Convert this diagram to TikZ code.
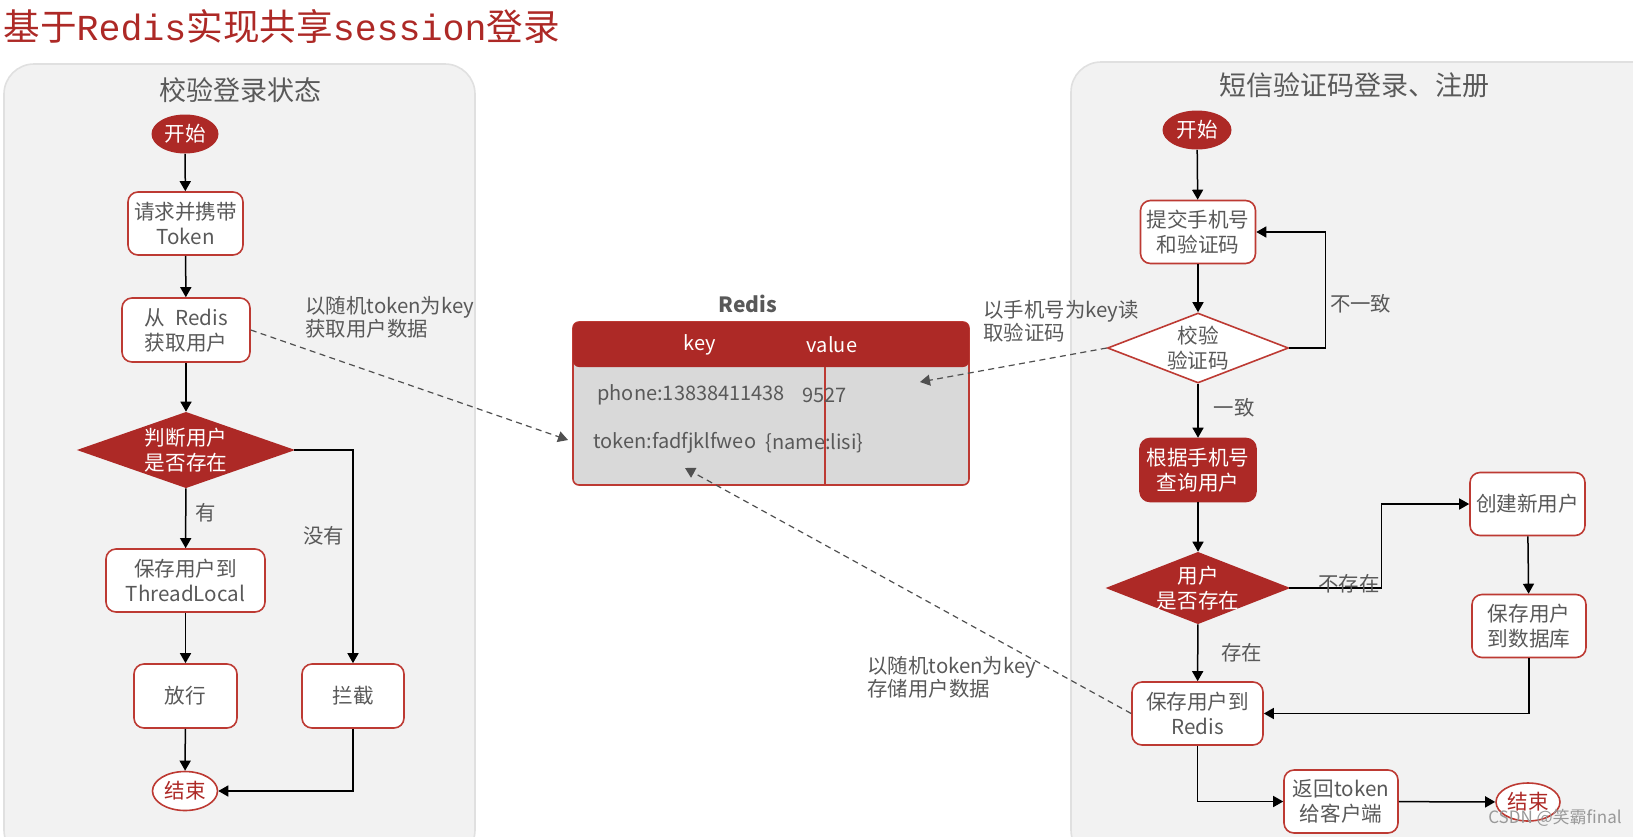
\documentclass[tikz,border=0pt]{standalone}
\usepackage{fontspec}
\setmainfont{Noto Sans CJK SC}
\newfontfamily\titlemono{Liberation Mono}
\usepackage{tikz}
\usetikzlibrary{arrows.meta}
\usetikzlibrary{shapes.geometric}
\definecolor{rs-red}{HTML}{AD2926}
\definecolor{rs-line}{HTML}{BD3A33}
\definecolor{rs-text}{HTML}{595959}
\definecolor{rs-panel}{HTML}{F2F2F2}
\definecolor{rs-cell}{HTML}{D9D9D9}
\definecolor{rs-dash}{HTML}{505050}

\begin{document}
\begin{tikzpicture}[x=0.5pt, y=-0.5pt, >={Triangle[length=5pt, width=5.5pt]},
    flowbox/.style={draw=rs-line, fill=white, line width=0.8pt, rounded corners=5pt, inner sep=0pt, align=center, text=rs-text, font=\fontsize{10.3}{12.5}\selectfont},
    redbox/.style={flowbox, fill=rs-red, draw=rs-red, text=white},
    checkwhite/.style={flowbox, diamond, sharp corners},
    checkred/.style={checkwhite, fill=rs-red, draw=rs-red},
    checktext/.style={align=center, text=rs-text, inner sep=0pt, font=\fontsize{10.3}{12.5}\selectfont},
    startterm/.style={ellipse, fill=rs-red, text=white, inner sep=0pt, font=\fontsize{10.3}{12}\selectfont},
    endterm/.style={ellipse, draw=rs-line, line width=0.8pt, fill=white, text=rs-red, inner sep=0pt, font=\fontsize{10.3}{12}\selectfont},
    flow/.style={->, line width=0.75pt, black},
    keylink/.style={->, rs-dash, line width=0.6pt, dash pattern=on 3pt off 2.2pt},
    note/.style={text=rs-text, align=left, inner sep=0pt, font=\fontsize{10.2}{11.5}\selectfont},
    cell/.style={text=rs-text, anchor=west, inner sep=0pt, font=\fontsize{10}{12}\selectfont}]
    \useasboundingbox (0,0) rectangle (1633,836);
    \node[anchor=west, inner sep=0pt, text=rs-red, font=\fontsize{18.3}{18}\selectfont] (title) at (3,27) {基于{\titlemono Redis}实现共享{\titlemono session}登录};
    \filldraw[fill=rs-panel, draw=black!12, line width=0.8pt, rounded corners=15pt] (4,64) rectangle (475,860);
    \filldraw[fill=rs-panel, draw=black!12, line width=0.8pt, rounded corners=15pt] (1071,62) rectangle (1665,860);
    \node[text=rs-text, font=\fontsize{13.5}{14}\selectfont] (ltitle) at (240,90) {校验登录状态};
    \node[text=rs-text, font=\fontsize{13.5}{14}\selectfont] (rtitle) at (1354,85) {短信验证码登录、注册};

    \node[startterm, minimum width=33.5pt, minimum height=19.5pt] (lstart) at (185,134) {开始};
    \node[flowbox, minimum width=57.5pt, minimum height=31.5pt] (ltoken) at (185.5,223.5) {请求并携带\\Token};
    \node[flowbox, minimum width=64pt, minimum height=32pt] (lget) at (186,330) {从\enspace Redis\\获取用户};
    \node[checkred, minimum width=107pt, minimum height=37.5pt, label={[checktext, text=white]center:判断用户\\是否存在}] (lcheck) at (186,450) {};
    \node[flowbox, minimum width=79.5pt, minimum height=31.5pt] (lsave) at (185.5,580.5) {保存用户到\\ThreadLocal};
    \node[flowbox, minimum width=51.5pt, minimum height=32pt] (lpass) at (185.5,696) {放行};
    \node[flowbox, minimum width=51pt, minimum height=32pt] (lblock) at (353,696) {拦截};
    \node[endterm, minimum width=32.5pt, minimum height=19.5pt] (lend) at (185,791) {结束};
    \draw[flow] (lstart) -- (ltoken);
    \draw[flow] (ltoken) -- (lget);
    \draw[flow] (lget) -- (lcheck);
    \draw[flow] (lcheck) -- (lsave) node[note, pos=0.4, right=4.5pt] {有};
    \draw[flow] (lsave) -- (lpass);
    \draw[flow] (lpass) -- (lend);
    \draw[flow] (lcheck.east) -| (lblock.north) node[note, pos=0.7, left=4pt] {没有};
    \draw[flow] (lblock.south) |- (lend.east);

    \node[text=rs-text, font=\bfseries\fontsize{10.5}{12}\selectfont] (redislabel) at (748,304) {Redis};
    \node[draw=rs-line, fill=rs-cell, line width=0.8pt, rounded corners=3pt, minimum width=198pt, minimum height=81.5pt, inner sep=0pt] (redis) at (771,403.5) {};
    \fill[rs-red, rounded corners=3pt] (573,367) -- (573,322) -- (969,322) -- (969,367) -- cycle;
    \draw[rs-line, line width=0.8pt] (825,367) -- (redis.south -| 825,0);
    \node[text=white, font=\fontsize{10}{12}\selectfont] (keyhead) at (700,345) {key};
    \node[text=white, font=\fontsize{10}{12}\selectfont] (valuehead) at (832,345) {value};
    \node[cell] (phonekey) at (597,395) {phone:13838411438};
    \node[cell] (phoneval) at (802,395) {9527};
    \node[cell] (tokenkey) at (593,443) {token:fadfjklfweo};
    \node[cell] (tokenval) at (765,443) {\{name:lisi\}};

    \node[startterm, minimum width=34.5pt, minimum height=19.5pt] (rstart) at (1197,130) {开始};
    \node[flowbox, minimum width=57.5pt, minimum height=31.5pt] (rsubmit) at (1198,232) {提交手机号\\和验证码};
    \node[checkwhite, minimum width=90.5pt, minimum height=35pt, label={[checktext]center:校验\\验证码}] (rverify) at (1198,348) {};
    \node[redbox, minimum width=58pt, minimum height=31.5pt] (rquery) at (1198,470) {根据手机号\\查询用户};
    \node[checkred, minimum width=90.5pt, minimum height=35.5pt, label={[checktext, text=white]center:用户\\是否存在}] (rexist) at (1198,588) {};
    \node[flowbox, minimum width=57.5pt, minimum height=31.5pt] (rcreate) at (1527.5,504) {创建新用户};
    \node[flowbox, minimum width=57pt, minimum height=31.5pt] (rsavedb) at (1529,626) {保存用户\\到数据库};
    \node[flowbox, minimum width=65.5pt, minimum height=31.5pt] (rsaveredis) at (1197.5,713.5) {保存用户到\\Redis};
    \node[flowbox, minimum width=57pt, minimum height=31.5pt] (rreturn) at (1341,801.5) {返回token\\给客户端};
    \node[endterm, minimum width=32pt, minimum height=19pt] (rend) at (1528,802) {结束};
    \draw[flow] (rstart) -- (rsubmit);
    \draw[flow] (rsubmit) -- (rverify);
    \draw[flow] (rverify.east) -- ++(36,0) |- (rsubmit.east) node[note, pos=0.19, right=2pt] {不一致};
    \draw[flow] (rverify) -- (rquery) node[note, pos=0.45, right=7.5pt] {一致};
    \draw[flow] (rquery) -- (rexist);
    \draw[flow] (rexist.east) -- ++(92,0) node[note, pos=0.65, above=-3pt] {不存在} |- (rcreate.west);
    \draw[flow] (rcreate) -- (rsavedb);
    \draw[flow] (rsavedb.south) |- (rsaveredis.east);
    \draw[flow] (rexist) -- (rsaveredis) node[note, pos=0.5, right=11.5pt] {存在};
    \draw[flow] (rsaveredis.south) |- (rreturn.west);
    \draw[flow] (rreturn) -- (rend);

    \coordinate (getin) at (568,440);
    \coordinate (phonein) at (920,382);
    \coordinate (tokenin) at (685,468);
    \draw[keylink] (lget.east) -- (getin);
    \draw[keylink] (rverify.west) -- (phonein);
    \draw[keylink] (rsaveredis.west) -- (tokenin);
    \node[note, anchor=north west] (getnote) at (305,296) {以随机token为key\\获取用户数据};
    \node[note, anchor=north west] (phonenote) at (983,300) {以手机号为key读\\取验证码};
    \node[note, anchor=north west] (savenote) at (867,656) {以随机token为key\\存储用户数据};
    \node[text=black!40, inner sep=0pt, font=\fontsize{8.5}{10}\selectfont] (mark) at (1555,818) {CSDN @笑霸final};
\end{tikzpicture}
\end{document}
